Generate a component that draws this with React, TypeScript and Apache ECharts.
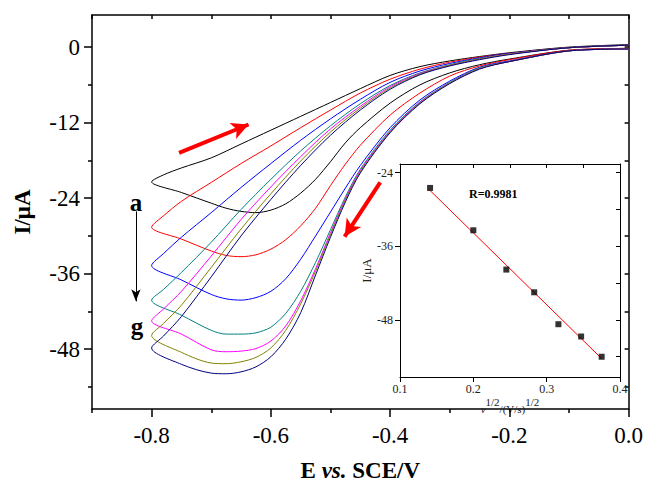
import React, { useEffect, useRef } from "react";
import * as echarts from "echarts";

const FONT = '"Liberation Serif", "Times New Roman", serif';

// ---- main CV curves ----
const curveColors = ["#000000", "#ff0000", "#0000ff", "#008080", "#ff00ff", "#808000", "#000080"];

// forward (cathodic) scan: 0.0 V -> -0.8 V
const lowerE = [0, -0.1, -0.2, -0.25, -0.3, -0.35, -0.4, -0.45, -0.475, -0.5, -0.525, -0.55, -0.575, -0.6, -0.625, -0.65, -0.675, -0.7, -0.75, -0.8];
// reverse scan: -0.8 V -> 0.0 V
const upperE = [-0.78, -0.75, -0.7, -0.65, -0.6, -0.55, -0.5, -0.45, -0.4, -0.35, -0.3, -0.25, -0.2, -0.1, 0];

const lowerA = [-0.2, -0.5, -1.9, -2.8, -4.1, -6.0, -8.9, -12.8, -15.2, -18.2, -21.0, -23.2, -24.9, -25.9, -26.3, -26.1, -25.6, -24.8, -23.1, -21.4];
const upperA = [-20.3, -19.2, -17.6, -15.4, -13.2, -11.0, -8.8, -6.6, -4.5, -3.1, -2.2, -1.5, -0.9, 0.0, 0.4];

const lowerB = [-0.2, -0.5, -2.0, -3.0, -4.6, -7.3, -10.8, -15.6, -18.6, -22.0, -25.6, -28.4, -30.6, -32.1, -33.0, -33.3, -33.1, -32.4, -30.5, -28.6];
const upperB = [-26.8, -24.5, -21.5, -18.5, -15.7, -12.8, -10.0, -7.3, -5.1, -3.5, -2.4, -1.6, -1.0, -0.1, 0.3];

const lowerC = [-0.3, -0.6, -2.2, -3.2, -5.4, -8.4, -12.8, -18.8, -22.4, -26.2, -30.0, -33.7, -36.8, -38.8, -39.8, -40.2, -40.0, -39.3, -37.0, -34.7];
const upperC = [-32.8, -30.2, -26.3, -22.3, -18.5, -14.8, -11.4, -8.3, -5.6, -3.8, -2.6, -1.7, -1.0, -0.1, 0.3];

const lowerD = [-0.3, -0.6, -2.3, -3.3, -5.6, -8.7, -13.2, -19.4, -23.8, -29.0, -34.2, -38.8, -42.3, -44.5, -45.4, -45.6, -45.6, -45.0, -42.6, -40.2];
const upperD = [-38.5, -35.8, -31.0, -25.8, -21.0, -16.5, -12.5, -9.0, -6.1, -4.1, -2.8, -1.8, -1.1, -0.1, 0.3];

const lowerE2 = [-0.3, -0.6, -2.3, -3.4, -5.7, -8.8, -13.4, -19.6, -24.1, -29.5, -35.2, -40.3, -44.3, -46.7, -47.9, -48.3, -48.4, -48.1, -45.6, -43.5];
const upperE2 = [-41.6, -38.8, -33.2, -27.4, -22.2, -17.4, -13.0, -9.4, -6.3, -4.2, -2.9, -1.9, -1.1, -0.1, 0.3];

const lowerF = [-0.3, -0.6, -2.3, -3.4, -5.7, -8.9, -13.5, -19.8, -24.3, -29.8, -35.6, -40.8, -45.0, -47.8, -49.3, -50.0, -50.3, -50.2, -48.5, -45.8];
const upperF = [-43.9, -41.0, -35.0, -28.9, -23.3, -18.1, -13.5, -9.7, -6.5, -4.3, -2.9, -1.9, -1.1, -0.1, 0.3];

const lowerG = [-0.3, -0.6, -2.3, -3.5, -5.8, -9.0, -13.6, -20.0, -24.6, -30.2, -36.2, -42.2, -46.4, -49.2, -50.8, -51.6, -51.9, -51.8, -50.4, -47.8];
const upperG = [-45.9, -42.8, -36.5, -30.0, -24.2, -18.8, -14.0, -10.0, -6.7, -4.4, -3.0, -2.0, -1.2, -0.1, 0.3];

const lowerCurrents = [lowerA, lowerB, lowerC, lowerD, lowerE2, lowerF, lowerG];
const upperCurrents = [upperA, upperB, upperC, upperD, upperE2, upperF, upperG];

// main axes ticks
const xMajor = [-0.8, -0.6, -0.4, -0.2, 0];
const xMinor = [-0.9, -0.7, -0.5, -0.3, -0.1];
const xAll = [-0.9, -0.8, -0.7, -0.6, -0.5, -0.4, -0.3, -0.2, -0.1, 0];
const yMajor = [0, -12, -24, -36, -48];
const yMinor = [-6, -18, -30, -42, -54];
const yAll = [0, -6, -12, -18, -24, -30, -36, -42, -48, -54];

// ---- inset: peak current vs sqrt(scan rate) ----
const insetX = [0.141, 0.2, 0.245, 0.283, 0.316, 0.347, 0.375];
const insetY = [-26.5, -33.4, -39.8, -43.5, -48.7, -50.7, -54.0];
const fitX = [0.14, 0.375];
const fitY = [-26.8, -54.3];
const insetXTicks = [0.1, 0.2, 0.3, 0.4];
const insetXAll = [0.1, 0.15, 0.2, 0.25, 0.3, 0.35, 0.4];
const insetYTicks = [-24, -36, -48];
const insetYAll = [-24, -30, -36, -42, -48, -54];

// annotation arrows [fromE, fromI, toE, toI]
const redArrowUp = [-0.754, -16.8, -0.6375, -12.3];
const redArrowDown = [-0.4166, -21.5, -0.4763, -30.1];
const blackArrow = [-0.8264, -26.1, -0.8264, -40.4];

export default function App() {
  const ref = useRef<HTMLDivElement>(null);
  useEffect(() => {
    if (!ref.current) return;
    const chart = echarts.init(ref.current, undefined, { renderer: "svg" });

    const mainSeries = curveColors.map((color, i) => {
      const data: number[][] = [];
      lowerE.forEach((e, k) => data.push([e, lowerCurrents[i][k]]));
      upperE.forEach((e, k) => data.push([e, upperCurrents[i][k]]));
      const s: any = {
        type: "line",
        xAxisIndex: 0,
        yAxisIndex: 0,
        data,
        symbol: "none",
        showSymbol: false,
        smooth: 0.3,
        silent: true,
        lineStyle: { color, width: 1 },
        z: 3,
      };
      if (i === 0) {
        const mk = (a: number[], color: string, width: number, size: number[]) => [
          { coord: [a[0], a[1]], symbol: "none", lineStyle: { color, width, type: "solid" } },
          { coord: [a[2], a[3]], symbol: "arrow", symbolSize: size, lineStyle: { color, width, type: "solid" } },
        ];
        s.markLine = {
          silent: true,
          animation: false,
          symbol: ["none", "arrow"],
          label: { show: false },
          emphasis: { disabled: true },
          data: [
            mk(redArrowUp, "#ff0000", 4, [13, 17]),
            mk(redArrowDown, "#ff0000", 4, [13, 17]),
            mk(blackArrow, "#000000", 1, [7, 12]),
          ],
        };
      }
      return s;
    });

    const axisLine = { show: true, onZero: false, lineStyle: { color: "#000", width: 1.5 } };
    const noLine = { show: false, onZero: false };
    const tickStyle = { color: "#000", width: 1.5 };
    const insetLine = { show: true, onZero: false, lineStyle: { color: "#000", width: 1 } };

    const option: any = {
      animation: false,
      backgroundColor: "#fff",
      grid: [
        { left: 92, top: 15, width: 538, height: 402 },
        { left: 400, top: 164, width: 220, height: 213 },
      ],
      xAxis: [
        {
          type: "value", gridIndex: 0, min: -0.9, max: 0, position: "bottom",
          axisLine,
          axisTick: { show: true, inside: false, length: 8, customValues: xMajor, lineStyle: tickStyle },
          axisLabel: {
            customValues: xMajor, formatter: (v: number) => v.toFixed(1),
            fontSize: 23, fontFamily: FONT, color: "#000", margin: 15,
          },
          splitLine: { show: false },
          name: "E {i|vs.} SCE/V", nameLocation: "middle", nameGap: 50,
          nameTextStyle: {
            fontSize: 23, fontWeight: "bold", fontFamily: FONT, color: "#000",
            rich: { i: { fontSize: 23, fontWeight: "bold", fontStyle: "italic", fontFamily: FONT, color: "#000" } },
          },
        },
        {
          type: "value", gridIndex: 0, min: -0.9, max: 0, position: "bottom",
          axisLine: noLine,
          axisTick: { show: true, inside: false, length: 4, customValues: xMinor, lineStyle: tickStyle },
          axisLabel: { show: false }, splitLine: { show: false },
        },
        {
          type: "value", gridIndex: 0, min: -0.9, max: 0, position: "top",
          axisLine,
          axisTick: { show: true, inside: true, length: 4, customValues: xAll, lineStyle: tickStyle },
          axisLabel: { show: false }, splitLine: { show: false },
        },
        {
          type: "value", gridIndex: 1, min: 0.1, max: 0.4, position: "bottom",
          axisLine: insetLine,
          axisTick: { show: true, inside: false, length: 5, customValues: insetXTicks, lineStyle: { color: "#000", width: 1 } },
          axisLabel: {
            customValues: insetXTicks, formatter: (v: number) => v.toFixed(1),
            fontSize: 12, fontFamily: FONT, color: "#222", margin: 6,
          },
          splitLine: { show: false },
          name: "{v|v}{s|1/2}{n|/(V/s)}{s|1/2}", nameLocation: "middle", nameGap: 19,
          nameTextStyle: {
            fontFamily: FONT, color: "#222",
            rich: {
              v: { fontSize: 11, fontStyle: "italic", fontFamily: FONT, color: "#222", verticalAlign: "bottom", lineHeight: 18 },
              s: { fontSize: 11, fontFamily: FONT, color: "#222", verticalAlign: "top", lineHeight: 18 },
              n: { fontSize: 11, fontFamily: FONT, color: "#222", verticalAlign: "bottom", lineHeight: 18 },
            },
          },
        },
        {
          type: "value", gridIndex: 1, min: 0.1, max: 0.4, position: "top",
          axisLine: insetLine,
          axisTick: { show: true, inside: true, length: 4, customValues: insetXAll, lineStyle: { color: "#000", width: 1 } },
          axisLabel: { show: false }, splitLine: { show: false },
        },
      ],
      yAxis: [
        {
          type: "value", gridIndex: 0, min: -57.5, max: 5.1, position: "left",
          axisLine,
          axisTick: { show: true, inside: false, length: 8, customValues: yMajor, lineStyle: tickStyle },
          axisLabel: {
            customValues: yMajor, formatter: (v: number) => String(v),
            fontSize: 23, fontFamily: FONT, color: "#000", margin: 12,
          },
          splitLine: { show: false },
          name: "I/μA", nameLocation: "middle", nameGap: 58,
          nameTextStyle: { fontSize: 23, fontWeight: "bold", fontFamily: FONT, color: "#000" },
        },
        {
          type: "value", gridIndex: 0, min: -57.5, max: 5.1, position: "left",
          axisLine: noLine,
          axisTick: { show: true, inside: false, length: 4, customValues: yMinor, lineStyle: tickStyle },
          axisLabel: { show: false }, splitLine: { show: false },
        },
        {
          type: "value", gridIndex: 0, min: -57.5, max: 5.1, position: "right",
          axisLine,
          axisTick: { show: true, inside: true, length: 4, customValues: yAll, lineStyle: tickStyle },
          axisLabel: { show: false }, splitLine: { show: false },
        },
        {
          type: "value", gridIndex: 1, min: -57.3, max: -22.6, position: "left",
          axisLine: insetLine,
          axisTick: { show: true, inside: false, length: 5, customValues: insetYTicks, lineStyle: { color: "#000", width: 1 } },
          axisLabel: {
            customValues: insetYTicks, formatter: (v: number) => String(v),
            fontSize: 12, fontFamily: FONT, color: "#222", margin: 7,
          },
          splitLine: { show: false },
          name: "I/μA", nameLocation: "middle", nameGap: 25,
          nameTextStyle: { fontSize: 13, fontFamily: FONT, color: "#222" },
        },
        {
          type: "value", gridIndex: 1, min: -57.3, max: -22.6, position: "right",
          axisLine: insetLine,
          axisTick: { show: true, inside: true, length: 4, customValues: insetYAll, lineStyle: { color: "#000", width: 1 } },
          axisLabel: { show: false }, splitLine: { show: false },
        },
      ],
      series: [
        ...mainSeries,
        {
          type: "line", xAxisIndex: 3, yAxisIndex: 3,
          data: fitX.map((x, k) => [x, fitY[k]]),
          symbol: "none", silent: true,
          lineStyle: { color: "#ff0000", width: 1 }, z: 4,
        },
        {
          type: "scatter", xAxisIndex: 3, yAxisIndex: 3,
          data: insetX.map((x, k) => [x, insetY[k]]),
          symbol: "rect", symbolSize: 6, silent: true,
          itemStyle: { color: "#000" }, z: 5,
        },
      ],
      graphic: [
        { type: "text", x: 136, y: 202, style: { text: "a", fontSize: 25, fontWeight: "bold", fontFamily: FONT, fill: "#000", align: "center", verticalAlign: "middle" } },
        { type: "text", x: 137, y: 326, style: { text: "g", fontSize: 25, fontWeight: "bold", fontFamily: FONT, fill: "#000", align: "center", verticalAlign: "middle" } },
        { type: "text", x: 469, y: 194, style: { text: "R=0.9981", fontSize: 12, fontWeight: "bold", fontFamily: FONT, fill: "#000", align: "left", verticalAlign: "middle" } },
      ],
    };
    chart.setOption(option);
    return () => chart.dispose();
  }, []);

  return (
    <div
      ref={ref}
      style={{ position: "fixed", left: 0, top: 0, width: 646, height: 487, background: "#fff" }}
    />
  );
}
